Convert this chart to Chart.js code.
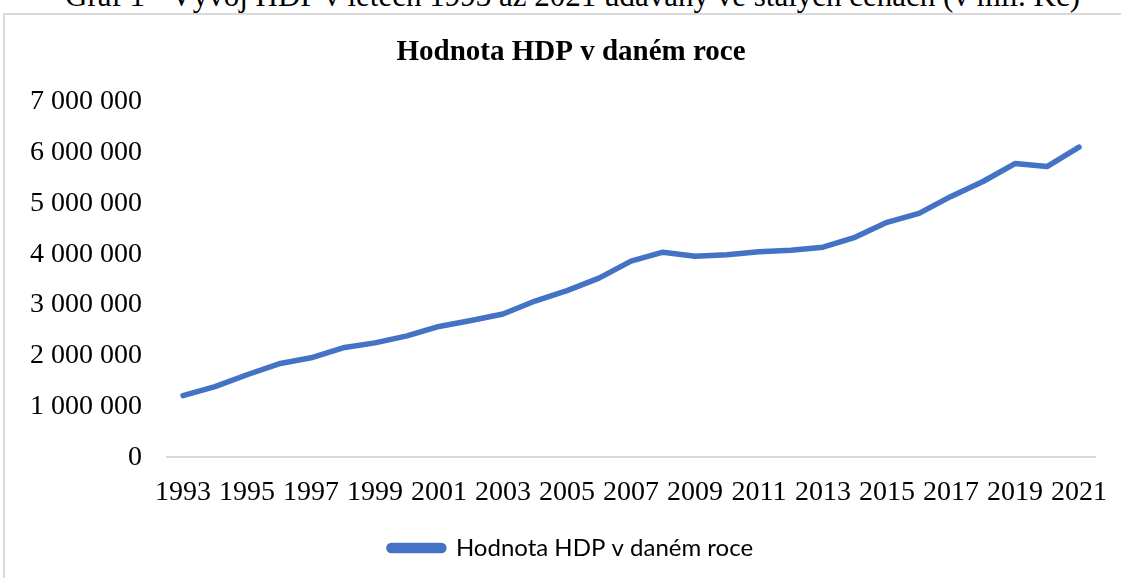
<!DOCTYPE html>
<html>
<head>
<meta charset="utf-8">
<script src="https://cdn.jsdelivr.net/npm/chart.js@4"></script>
<style>
  html, body { margin: 0; padding: 0; background: #fff; overflow: hidden; }
  #wrap { position: relative; width: 1121px; height: 578px; overflow: hidden; }
  #caption {
    position: absolute; left: 0; width: 1145px; top: -20px;
    text-align: center; font-family: "Liberation Serif", serif; font-size: 31px;
    line-height: 1; color: #000; white-space: nowrap;
  }
  #frame {
    position: absolute; left: 3px; top: 13px; width: 1140px; height: 580px;
    border: 2px solid #d9d9d9; box-sizing: border-box;
  }
  #chartCanvas { position: absolute; left: 0; top: 0; }
</style>
</head>
<body>
<div id="wrap">
  <div id="caption">Graf 1 - Vývoj HDP v letech 1993 až 2021 udávaný ve stálých cenách (v mil. Kč)</div>
  <div id="frame"></div>
  <canvas id="chartCanvas" width="1121" height="578"></canvas>
</div>
<script>
// data (mil. Kč)
const years = [
  "1993", "1994", "1995", "1996", "1997", "1998", "1999", "2000", "2001", "2002",
  "2003", "2004", "2005", "2006", "2007", "2008", "2009", "2010", "2011", "2012",
  "2013", "2014", "2015", "2016", "2017", "2018", "2019", "2020", "2021",
];
const hdp = [
  1216000, 1392000, 1627000, 1843000, 1961000, 2157000, 2255000, 2392000, 2578000, 2696000,
  2824000, 3078000, 3284000, 3529000, 3863000, 4039000, 3961000, 3990000, 4049000, 4078000,
  4137000, 4333000, 4627000, 4804000, 5137000, 5431000, 5784000, 5725000, 6108000,
];
const seriesName = "Hodnota HDP v daném roce";
const yTicks = [0, 1000000, 2000000, 3000000, 4000000, 5000000, 6000000, 7000000];

const blue = "#4472C4";
const serif = "'Liberation Serif', 'Times New Roman', serif";

function spaced(v) {
  return v.toString().replace(/\B(?=(\d{3})+(?!\d))/g, " ");
}

let ctx = document.getElementById("chartCanvas").getContext("2d");

// y labels are mirrored so they are not clipped to the narrow axis box;
// negative padding puts their right edge back left of the plot
let chart = new Chart(ctx, {
  type: "line",
  data: {
    labels: years,
    datasets: [
      {
        label: seriesName,
        data: hdp,
        borderColor: blue,
        backgroundColor: blue,
        borderWidth: 5.5,
        pointRadius: 0,
        tension: 0,
        borderCapStyle: "round",
        borderJoinStyle: "round",
        fill: false,
      },
    ],
  },
  options: {
    responsive: false,
    animation: false,
    layout: {
      padding: { top: 35, right: 26, bottom: 8, left: 47 },
    },
    scales: {
      x: {
        offset: true,
        afterFit: function (scale) {
          scale.paddingLeft = 0;
          scale.paddingRight = 0;
        },
        grid: { display: false, drawTicks: false },
        border: { display: true, color: "#d9d9d9", width: 2 },
        ticks: {
          autoSkip: false,
          maxRotation: 0,
          padding: 18,
          color: "#000",
          font: { family: serif, size: 28 },
          callback: function (value, index) {
            return index % 2 === 0 ? years[index] : "";
          },
        },
      },
      y: {
        min: 0,
        max: 7000000,
        afterFit: function (scale) {
          scale.width = 120;
        },
        afterBuildTicks: function (scale) {
          scale.ticks = yTicks.map((v) => ({ value: v }));
        },
        grid: { display: false, drawTicks: false },
        border: { display: false },
        ticks: {
          mirror: true,
          crossAlign: "far",
          padding: -137,
          color: "#000",
          font: { family: serif, size: 28 },
          callback: function (value) {
            return spaced(value);
          },
        },
      },
    },
    plugins: {
      title: {
        display: true,
        text: seriesName,
        color: "#000",
        font: { family: serif, size: 29, weight: "bold" },
        padding: { top: 0, bottom: 32 },
      },
      legend: {
        display: true,
        position: "bottom",
        labels: {
          color: "#000",
          font: { family: "Lato, 'Open Sans', sans-serif", size: 24 },
          boxWidth: 55,
          boxHeight: 5,
          useBorderRadius: true,
          borderRadius: 2.5,
          padding: 9,
        },
      },
      tooltip: { enabled: false },
    },
  },
});
</script>
</body>
</html>
